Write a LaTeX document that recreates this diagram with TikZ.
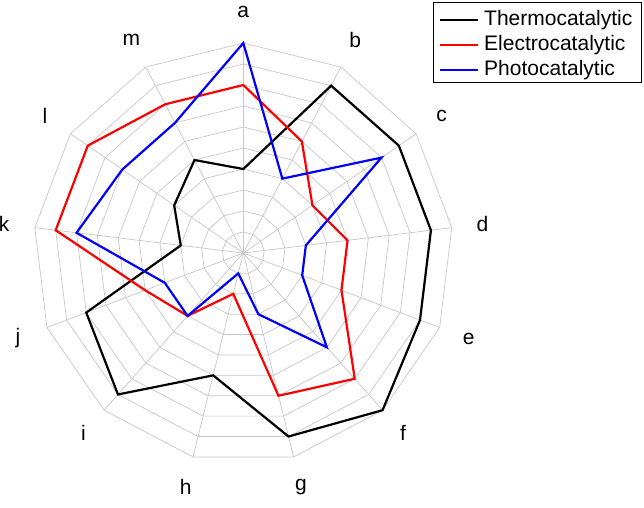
\documentclass[tikz,border=0pt]{standalone}
\usepackage{fontspec}
\setmainfont{Liberation Sans}
\usetikzlibrary{calc}
\begin{document}
\begin{tikzpicture}[x=1pt,y=1pt,
  gridline/.style={draw=black!22,line width=0.7pt},
  series/.style={line width=2.2pt,line join=miter},
  lab/.style={font=\fontsize{21}{23}\selectfont},
  legtext/.style={font=\fontsize{21}{23}\selectfont,anchor=west,inner sep=0pt}]
\useasboundingbox (0,0) rectangle (644,-507);
\coordinate (O) at (243.3,-253);
\def\R{210}
% rings
\foreach \k in {1,...,10}{
  \draw[gridline] ($(O)+(90:\k*21)$)
    \foreach \i in {1,...,12}{ -- ($(O)+({90-\i*360/13}:\k*21)$)} -- cycle;
}
\foreach \i in {0,...,12}{
  \draw[gridline] (O) -- ($(O)+({90-\i*360/13}:\R)$);
}
% labels
\foreach \l [count=\i from 0] in {a,b,c,d,e,f,g,h,i,j,k,l,m}{
  \node[lab] (lab\l) at ($(O)+({90-\i*360/13}:241)$) {\l};
}
% series
\newcommand{\plotseries}[3]{%
  \draw[series,#1] ($(O)+(90:#2*\R)$) \foreach \v [count=\i from 1] in {#3}{
    -- ($(O)+({90-\i*360/13}:\v*\R)$)} -- cycle;}
\plotseries{black}{.4}{.9,.9,.9,.9,1.0,.9,.6,.9,.8,.3,.4,.5}
\plotseries{red}{.8}{.6,.4,.5,.5,.8,.7,.2,.4,.5,.9,.9,.8}
\plotseries{blue}{1.0}{.4,.8,.3,.3,.6,.3,.1,.4,.4,.8,.7,.7}
% legend
\node[draw=black,line width=0.8pt,minimum width=208pt,minimum height=80pt,anchor=north west,inner sep=0pt] (leg) at (433,-2) {};
\foreach \c/\t/\y in {black/Thermocatalytic/20,red/Electrocatalytic/45,blue/Photocatalytic/70}{
  \coordinate (s\c) at (440,-\y);
  \coordinate (e\c) at (478,-\y);
  \draw[line width=2.2pt,\c] (s\c) -- (e\c);
  \node[legtext] (t\c) at (484,-\y) {\t};
}
\end{tikzpicture}
\end{document}
